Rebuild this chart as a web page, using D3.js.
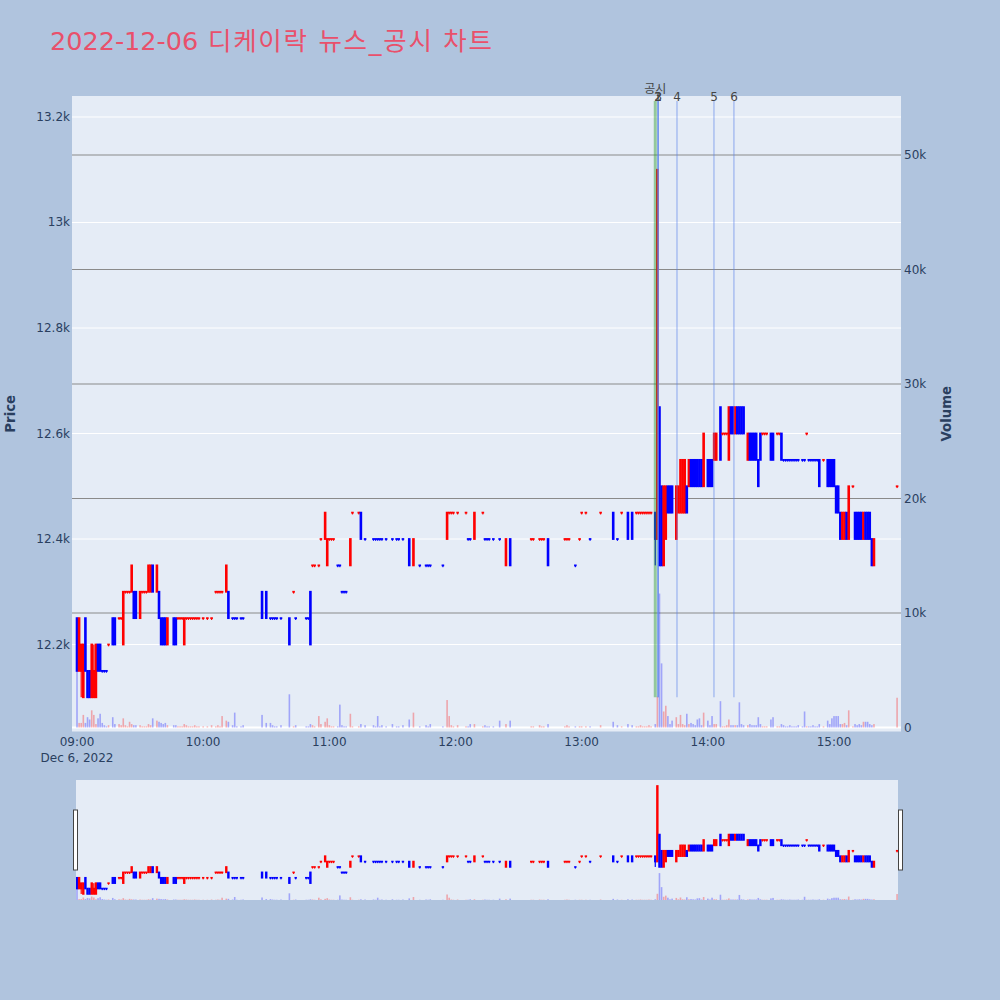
<!DOCTYPE html>
<html>
<head>
<meta charset="utf-8">
<script src="https://cdn.jsdelivr.net/npm/d3@7"></script>
<style>
  body { margin: 0; background: #b0c4de; }
  svg text { font-family: "DejaVu Sans", "Noto Sans CJK KR", sans-serif; }
</style>
</head>
<body>
<svg id="chart" width="1000" height="1000"></svg>
<script>
// 2022-12-06 디케이락 1-minute candles, volume, news / disclosure marks
const tradeDate = "2022-12-06";
const sessionOpen = "09:00:00";
const chartTitle = "2022-12-06 디케이락 뉴스_공시 차트";

// minutes after 09:00
const minute = [
  0,1,2,3,4,5,6,7,8,9,
  10,11,12,13,14,15,17,18,20,21,
  22,23,24,25,26,27,28,30,31,32,
  33,34,35,36,38,39,40,41,42,43,
  46,47,48,49,50,51,52,53,54,55,
  56,57,58,60,62,64,66,67,68,69,
  71,72,74,75,76,78,79,88,90,92,
  93,94,95,97,101,103,104,109,110,111,
  112,113,115,116,118,119,120,121,122,124,
  125,126,127,128,130,131,134,135,137,141,
  142,143,144,145,147,150,152,153,155,158,
  160,163,166,167,168,174,176,177,178,179,
  181,185,186,187,189,193,194,195,196,198,
  201,204,206,216,217,220,221,222,224,232,
  233,234,237,239,240,242,244,249,255,257,
  259,262,264,266,267,268,269,270,271,272,
  273,275,276,277,278,279,280,281,282,283,
  285,286,287,288,289,290,291,292,293,294,
  295,296,297,298,300,301,302,303,304,306,
  307,308,309,310,311,312,313,314,315,316,
  317,319,320,321,322,323,324,325,326,327,
  328,330,331,333,334,335,336,337,338,339,
  340,341,342,343,345,346,347,348,349,350,
  351,352,353,355,357,358,359,360,361,362,
  363,364,365,366,367,369,370,371,372,373,
  374,375,376,377,378,379,390
];
const open = [
  12250,12150,12150,12100,12250,12150,12150,12100,12100,12100,
  12200,12200,12150,12150,12150,12200,12250,12250,12250,12250,
  12200,12300,12300,12300,12300,12300,12300,12250,12300,12300,
  12300,12300,12300,12350,12300,12300,12250,12250,12250,12200,
  12250,12250,12250,12250,12250,12200,12250,12250,12250,12250,
  12250,12250,12250,12250,12250,12250,12300,12300,12300,12300,
  12300,12300,12250,12250,12250,12250,12250,12300,12300,12250,
  12250,12250,12250,12250,12250,12300,12250,12250,12250,12300,
  12350,12350,12350,12400,12400,12350,12400,12400,12400,12350,
  12350,12300,12300,12300,12350,12450,12450,12450,12400,12400,
  12400,12400,12400,12400,12400,12400,12400,12400,12400,12400,
  12350,12350,12350,12350,12350,12350,12400,12450,12450,12450,
  12450,12450,12400,12400,12400,12450,12400,12400,12400,12400,
  12400,12350,12400,12400,12400,12400,12400,12400,12400,12400,
  12400,12400,12350,12400,12450,12450,12400,12450,12450,12400,
  12450,12450,12450,12450,12450,12450,12450,12450,12450,12450,
  12450,12450,12400,12650,12500,12350,12400,12500,12500,12500,
  12400,12450,12450,12450,12450,12500,12500,12550,12550,12550,
  12550,12550,12550,12500,12550,12550,12550,12550,12550,12650,
  12600,12600,12600,12550,12650,12650,12600,12650,12650,12650,
  12650,12550,12600,12600,12600,12600,12550,12600,12600,12600,
  12600,12600,12600,12600,12600,12600,12550,12550,12550,12550,
  12550,12550,12550,12550,12550,12550,12600,12550,12550,12550,
  12550,12550,12550,12550,12550,12550,12550,12550,12500,12500,
  12450,12400,12400,12450,12400,12500,12450,12450,12450,12450,
  12400,12450,12450,12450,12400,12350,12500
];
const high = [
  12250,12250,12200,12200,12250,12150,12150,12200,12200,12200,
  12200,12200,12150,12150,12150,12200,12250,12250,12250,12250,
  12300,12300,12300,12300,12350,12300,12300,12300,12300,12300,
  12300,12350,12350,12350,12350,12300,12250,12250,12250,12250,
  12250,12250,12250,12250,12250,12250,12250,12250,12250,12250,
  12250,12250,12250,12250,12250,12250,12300,12300,12300,12300,
  12350,12300,12250,12250,12250,12250,12250,12300,12300,12250,
  12250,12250,12250,12250,12250,12300,12250,12250,12250,12300,
  12350,12350,12350,12400,12450,12400,12400,12400,12400,12350,
  12350,12300,12300,12300,12400,12450,12450,12450,12400,12400,
  12400,12400,12400,12400,12400,12400,12400,12400,12400,12400,
  12400,12350,12350,12350,12350,12350,12450,12450,12450,12450,
  12450,12450,12400,12400,12450,12450,12400,12400,12400,12400,
  12400,12400,12400,12400,12400,12400,12400,12400,12400,12400,
  12400,12400,12350,12400,12450,12450,12400,12450,12450,12400,
  12450,12450,12450,12450,12450,12450,12450,12450,12450,12450,
  12450,12450,13100,12650,12500,12500,12500,12500,12500,12500,
  12500,12500,12550,12550,12550,12500,12550,12550,12550,12550,
  12550,12550,12550,12600,12550,12550,12550,12600,12600,12650,
  12600,12600,12600,12650,12650,12650,12650,12650,12650,12650,
  12650,12600,12600,12600,12600,12600,12550,12600,12600,12600,
  12600,12600,12600,12600,12600,12600,12550,12550,12550,12550,
  12550,12550,12550,12550,12550,12550,12600,12550,12550,12550,
  12550,12550,12550,12550,12550,12550,12550,12550,12500,12500,
  12450,12450,12450,12450,12500,12500,12450,12450,12450,12450,
  12450,12450,12450,12450,12400,12400,12500
];
const low = [
  12150,12150,12100,12100,12150,12100,12100,12100,12100,12100,
  12150,12150,12150,12150,12150,12200,12200,12200,12250,12250,
  12200,12300,12300,12300,12300,12250,12250,12250,12300,12300,
  12300,12300,12300,12300,12300,12250,12200,12200,12200,12200,
  12200,12200,12250,12250,12250,12200,12250,12250,12250,12250,
  12250,12250,12250,12250,12250,12250,12300,12300,12300,12300,
  12300,12250,12250,12250,12250,12250,12250,12250,12250,12250,
  12250,12250,12250,12250,12200,12300,12250,12250,12250,12200,
  12350,12350,12350,12400,12400,12350,12400,12400,12400,12350,
  12350,12300,12300,12300,12350,12450,12450,12400,12400,12400,
  12400,12400,12400,12400,12400,12400,12400,12400,12400,12350,
  12350,12350,12350,12350,12350,12350,12400,12450,12450,12450,
  12450,12450,12400,12400,12400,12450,12400,12400,12400,12400,
  12400,12350,12350,12400,12400,12400,12400,12400,12350,12400,
  12400,12400,12350,12400,12450,12450,12400,12450,12400,12400,
  12450,12400,12400,12450,12450,12450,12450,12450,12450,12450,
  12450,12350,12400,12350,12350,12350,12400,12450,12450,12450,
  12400,12450,12450,12450,12450,12450,12500,12500,12500,12500,
  12500,12500,12500,12500,12500,12500,12500,12550,12550,12550,
  12600,12600,12600,12550,12600,12600,12600,12600,12600,12600,
  12600,12550,12550,12550,12550,12550,12500,12550,12600,12600,
  12600,12550,12550,12600,12600,12550,12550,12550,12550,12550,
  12550,12550,12550,12550,12550,12550,12600,12550,12550,12550,
  12550,12550,12500,12550,12500,12500,12500,12500,12450,12450,
  12400,12400,12400,12400,12400,12500,12400,12400,12400,12400,
  12400,12400,12400,12400,12350,12350,12500
];
const close = [
  12150,12250,12200,12200,12150,12100,12100,12200,12150,12200,
  12150,12150,12150,12150,12150,12200,12200,12200,12250,12250,
  12300,12300,12300,12300,12350,12250,12250,12300,12300,12300,
  12300,12350,12350,12300,12350,12250,12200,12200,12200,12250,
  12200,12200,12250,12250,12250,12250,12250,12250,12250,12250,
  12250,12250,12250,12250,12250,12250,12300,12300,12300,12300,
  12350,12250,12250,12250,12250,12250,12250,12250,12250,12250,
  12250,12250,12250,12250,12200,12300,12250,12250,12250,12200,
  12350,12350,12350,12400,12450,12400,12400,12400,12400,12350,
  12350,12300,12300,12300,12400,12450,12450,12400,12400,12400,
  12400,12400,12400,12400,12400,12400,12400,12400,12400,12350,
  12400,12350,12350,12350,12350,12350,12450,12450,12450,12450,
  12450,12450,12400,12400,12450,12450,12400,12400,12400,12400,
  12400,12400,12350,12400,12400,12400,12400,12400,12350,12400,
  12400,12400,12350,12400,12450,12450,12400,12450,12400,12400,
  12450,12400,12400,12450,12450,12450,12450,12450,12450,12450,
  12450,12400,13100,12350,12350,12500,12500,12450,12450,12450,
  12500,12500,12550,12550,12550,12450,12550,12500,12500,12500,
  12500,12500,12500,12600,12500,12500,12500,12600,12600,12550,
  12600,12600,12600,12650,12600,12600,12650,12600,12600,12600,
  12600,12600,12550,12550,12550,12550,12500,12550,12600,12600,
  12600,12550,12550,12600,12600,12550,12550,12550,12550,12550,
  12550,12550,12550,12550,12550,12550,12600,12550,12550,12550,
  12550,12550,12500,12550,12500,12500,12500,12500,12450,12450,
  12400,12450,12450,12400,12500,12500,12400,12400,12400,12400,
  12450,12400,12400,12400,12350,12400,12500
];
const volume = [
  9500,400,400,1100,400,900,700,1500,1100,300,
  800,1200,400,200,100,200,900,300,300,200,
  800,200,100,500,300,200,200,200,100,100,
  100,300,200,800,600,500,400,300,400,200,
  200,200,100,100,100,300,200,100,100,100,
  200,100,100,100,100,200,100,200,100,1000,
  600,500,200,1300,100,100,200,1100,400,400,
  200,100,100,200,2900,100,200,100,100,300,
  200,100,1000,300,500,800,200,100,100,100,
  2000,200,100,100,1200,100,100,300,200,200,
  100,1000,100,200,100,300,100,100,200,700,
  1300,100,200,100,300,100,2400,1000,200,100,
  200,100,100,300,300,100,200,100,100,100,
  600,300,600,100,100,200,100,100,300,100,
  200,100,100,100,100,100,100,200,500,200,
  100,300,200,100,100,200,100,100,100,200,
  100,300,2700,11700,5600,1400,1900,1000,300,600,
  900,300,1100,300,200,1200,300,400,300,200,
  700,800,200,1300,600,200,1000,300,300,2300,
  100,100,200,700,200,200,200,200,2200,300,
  200,200,300,200,200,200,900,300,100,100,
  100,700,900,100,100,300,200,100,100,200,
  100,100,100,200,100,1400,100,100,100,200,
  100,100,300,100,600,300,800,1000,1000,1000,
  300,300,400,200,1500,100,300,200,300,200,
  500,500,500,300,200,300,2600
];

const priceTicks = [12200, 12400, 12600, 12800, 13000, 13200];
const volumeTicks = [0, 10000, 20000, 30000, 40000, 50000];
const hourTicks = ["09:00:00","10:00:00","11:00:00","12:00:00","13:00:00","14:00:00","15:00:00"];

const disclosureTimes = ["13:35:00"];
const disclosureLabels = ["공시"];
const newsTimes = ["13:36:10","13:36:20","13:36:30","13:45:20","14:02:55","14:12:25"];
const newsLabels = ["1","2","3","4","5","6"];

const upColor = "red", downColor = "blue";

const svg = d3.select("#chart");
const parseT = d3.timeParse("%Y-%m-%d %H:%M:%S");
const t0 = parseT(tradeDate + " " + sessionOpen);
const at = m => new Date(t0.getTime() + m * 60000);
const tm = s => parseT(tradeDate + " " + s);

const candles = minute.map((m, i) => ({
  t: at(m), o: open[i], h: high[i], l: low[i], c: close[i], v: volume[i]
}));
// direction: plotly style, equal open/close compares with previous close
let prevC = null, prevDir = "dec";
candles.forEach(d => {
  let dir;
  if (d.c > d.o) dir = "inc";
  else if (d.c < d.o) dir = "dec";
  else if (prevC !== null && d.c > prevC) dir = "inc";
  else if (prevC !== null && d.c < prevC) dir = "dec";
  else dir = prevDir;
  d.dir = dir; prevC = d.c; prevDir = dir;
});
const col = d => d.dir === "inc" ? upColor : downColor;

const plot = { left: 72, right: 901, top: 96, bottom: 731.5 };
const x = d3.scaleTime().domain([at(-2.38), at(391.86)]).range([plot.left, plot.right]);
const yP = d3.scaleLinear().domain([12035.1, 13239.8]).range([plot.bottom, plot.top]);
const yV = d3.scaleLinear().domain([-349, 55153]).range([plot.bottom, plot.top]);

svg.append("rect").attr("width", 1000).attr("height", 1000).attr("fill", "#b0c4de");

// title: date part + Korean part (Korean glyphs run a little wider in the original)
const titleDate = chartTitle.slice(0, 10), titleRest = chartTitle.slice(10);
const title = svg.append("text").attr("x", 50).attr("y", 50)
  .attr("font-size", 25.5).attr("fill", "#e9506b");
title.append("tspan").text(titleDate);
title.append("tspan").attr("letter-spacing", 1.7).text(titleRest);

svg.append("defs").append("clipPath").attr("id", "clipMain")
  .append("rect").attr("x", plot.left).attr("y", plot.top)
  .attr("width", plot.right - plot.left).attr("height", plot.bottom - plot.top);

svg.append("rect").attr("x", plot.left).attr("y", plot.top)
  .attr("width", plot.right - plot.left).attr("height", plot.bottom - plot.top)
  .attr("fill", "#e5ecf6");

// grids
svg.append("g").selectAll("line").data(priceTicks).join("line")
  .attr("x1", plot.left).attr("x2", plot.right)
  .attr("y1", d => yP(d)).attr("y2", d => yP(d))
  .attr("stroke", "#fff").attr("stroke-width", 1);
svg.append("g").selectAll("line").data(volumeTicks.filter(v => v > 0)).join("line")
  .attr("x1", plot.left).attr("x2", plot.right)
  .attr("y1", d => yV(d)).attr("y2", d => yV(d))
  .attr("stroke", "#8a8a8a").attr("stroke-width", 1.2);
svg.append("line").attr("x1", plot.left).attr("x2", plot.right)
  .attr("y1", yV(0)).attr("y2", yV(0)).attr("stroke", "#fff").attr("stroke-width", 2);

function drawSeries(g, ys, yv, bw, minH) {
  g.append("g").selectAll("rect").data(candles).join("rect")
    .attr("x", d => x(d.t) - 0.8).attr("width", 1.6)
    .attr("y", d => yv(d.v)).attr("height", d => Math.max(0, yv(0) - yv(d.v)))
    .attr("fill", col).attr("opacity", 0.3);
  // wick
  g.append("g").selectAll("rect").data(candles).join("rect")
    .attr("x", d => x(d.t) - 0.6).attr("width", 1.2)
    .attr("y", d => ys(d.h)).attr("height", d => Math.max(minH, ys(d.l) - ys(d.h)))
    .attr("fill", col);
  // body
  g.append("g").selectAll("rect").data(candles).join("rect")
    .attr("x", d => x(d.t) - bw / 2).attr("width", bw)
    .attr("y", d => Math.min(ys(d.o), ys(d.c)) - minH / 2)
    .attr("height", d => Math.abs(ys(d.o) - ys(d.c)) + minH)
    .attr("fill", col);
}

const main = svg.append("g").attr("clip-path", "url(#clipMain)");
drawSeries(main, yP, yV, 2.6, 1.8);

// event lines
const lineTop = plot.top + 5, lineBottom = yP(12100);
disclosureTimes.forEach((s, i) => {
  main.append("line").attr("x1", x(tm(s))).attr("x2", x(tm(s)))
    .attr("y1", lineTop).attr("y2", lineBottom)
    .attr("stroke", "#2e9d2e").attr("stroke-opacity", 0.45).attr("stroke-width", 3);
  svg.append("text").attr("x", x(tm(s))).attr("y", 93).attr("text-anchor", "middle")
    .attr("font-size", 12).attr("fill", "#444").text(disclosureLabels[i]);
});
newsTimes.forEach((s, i) => {
  main.append("line").attr("x1", x(tm(s))).attr("x2", x(tm(s)))
    .attr("y1", lineTop).attr("y2", lineBottom)
    .attr("stroke", "#5a82ea").attr("stroke-opacity", 0.65).attr("stroke-width", 1);
  svg.append("text").attr("x", x(tm(s))).attr("y", 101).attr("text-anchor", "middle")
    .attr("font-size", 12).attr("fill", "#444").text(newsLabels[i]);
});

// axes
const tickColor = "#2a3f5f";
svg.append("g").selectAll("text").data(priceTicks).join("text")
  .attr("x", 70).attr("y", d => yP(d) + 4).attr("text-anchor", "end")
  .attr("font-size", 12).attr("fill", tickColor).text(d3.format("~s"));
svg.append("g").selectAll("text").data(volumeTicks).join("text")
  .attr("x", 904).attr("y", d => yV(d) + 4)
  .attr("font-size", 12).attr("fill", tickColor).text(d3.format("~s"));
svg.append("g").selectAll("text").data(hourTicks).join("text")
  .attr("x", d => x(tm(d))).attr("y", 746).attr("text-anchor", "middle")
  .attr("font-size", 12).attr("fill", tickColor).text(d => d3.timeFormat("%H:%M")(tm(d)));
svg.append("text").attr("x", x(tm(hourTicks[0]))).attr("y", 762).attr("text-anchor", "middle")
  .attr("font-size", 12).attr("fill", tickColor)
  .text(d3.timeFormat("%b %-d, %Y")(parseT(tradeDate + " 00:00:00")));

svg.append("text").attr("transform", `translate(15,${(plot.top + plot.bottom) / 2}) rotate(-90)`)
  .attr("text-anchor", "middle").attr("font-size", 13.3).attr("font-weight", "bold")
  .attr("fill", tickColor).text("Price");
svg.append("text").attr("transform", `translate(951,${(plot.top + plot.bottom) / 2}) rotate(-90)`)
  .attr("text-anchor", "middle").attr("font-size", 13.3).attr("font-weight", "bold")
  .attr("fill", tickColor).text("Volume");

// range slider
const rs = { left: 76, right: 898, top: 780, bottom: 900 };
const ysP = d3.scaleLinear().domain([12044, 13155]).range([rs.bottom, rs.top]);
const ysV = d3.scaleLinear().domain([0, 52200]).range([rs.bottom, rs.top]);
svg.append("defs").append("clipPath").attr("id", "clipSlider")
  .append("rect").attr("x", rs.left).attr("y", rs.top)
  .attr("width", rs.right - rs.left).attr("height", rs.bottom - rs.top);
svg.append("rect").attr("x", rs.left).attr("y", rs.top)
  .attr("width", rs.right - rs.left).attr("height", rs.bottom - rs.top).attr("fill", "#e5ecf6");
const slider = svg.append("g").attr("clip-path", "url(#clipSlider)");
drawSeries(slider, ysP, ysV, 2.4, 1.6);
[rs.left - 2.5, rs.right + 0.5].forEach(hx => {
  svg.append("rect").attr("x", hx).attr("y", 810).attr("width", 4).attr("height", 60)
    .attr("fill", "#fff").attr("stroke", "#444").attr("stroke-width", 1);
});
</script>
</body>
</html>
